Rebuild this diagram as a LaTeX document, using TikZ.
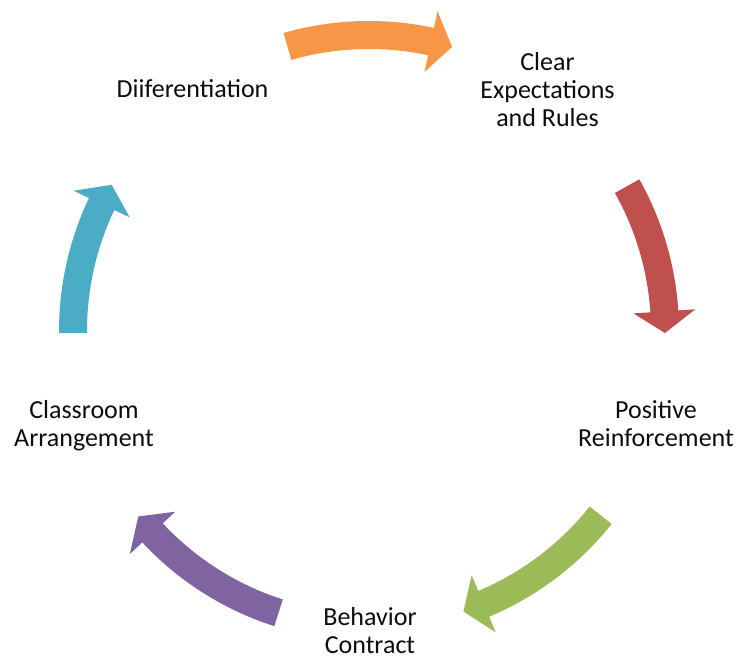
\documentclass[tikz,border=0pt]{standalone}
\usepackage{fontspec}
\setmainfont{Carlito}
\usepackage{tikz}
\usetikzlibrary{positioning}

\definecolor{arrorange}{HTML}{F79646}
\definecolor{arrred}{HTML}{C0504D}
\definecolor{arrgreen}{HTML}{9BBB59}
\definecolor{arrpurple}{HTML}{8064A2}
\definecolor{arrblue}{HTML}{4BACC6}

% curved block arrow: colour, tail angle, tip angle
\newcommand{\cycarrow}[3]{%
  \fill[#1] (#2:310pt) arc[start angle=#2, end angle=#3+4.2, radius=310pt]
    -- (#3+4.2:327pt) -- (#3:296pt) -- (#3+4.2:265pt) -- (#3+4.2:282pt)
    arc[start angle=#3+4.2, end angle=#2, radius=282pt] -- cycle;}

\begin{document}
\begin{tikzpicture}[
            x=1pt,y=1pt,
            lab/.style={anchor=base,align=center,inner sep=0pt,text=black!95,
                        font=\fontsize{26}{28}\selectfont}
          ]
          \useasboundingbox (0,0) rectangle (737,658);

          %labels (base = last line)
          \node[lab] (diff) at (192.5,560.7) {Diiferentiation};
          \node[lab] (rules) at (547.5,531.3) {Clear\\Expectations\\and Rules};
          \node[lab] (reinf) at (656,211) {Positive\\Reinforcement};
          \node[lab] (contract) at (370,4) {Behavior\\Contract};
          \node[lab] (room) at (84,211) {Classroom\\Arrangement};

          %cycle arrows
          \begin{scope}[shift={(369,327)}]
            \cycarrow{arrorange}{106}{73.7}
            \cycarrow{arrred}{29.3}{-0.4}
            \cycarrow{arrgreen}{-38.5}{-71.4}
            \cycarrow{arrpurple}{-107.8}{-141.2}
            \cycarrow{arrblue}{180.4}{150.4}
          \end{scope}

      \end{tikzpicture}
\end{document}
